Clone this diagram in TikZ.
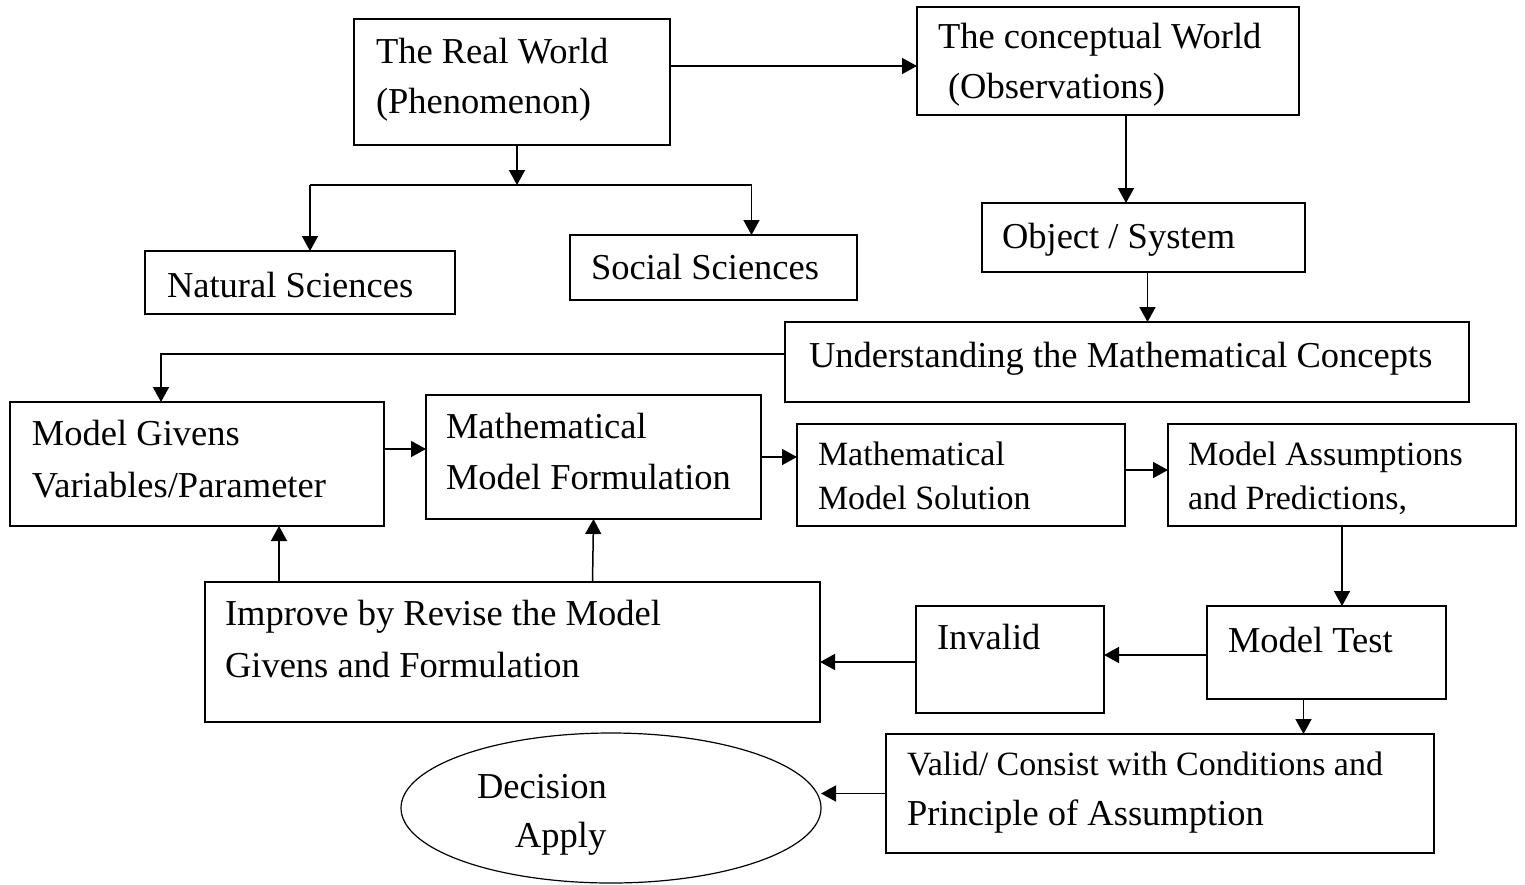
\documentclass[tikz,border=0pt]{standalone}
\usepackage{fontspec}
\setmainfont{Liberation Serif}
\usetikzlibrary{arrows.meta,shapes.geometric}
\begin{document}
\begin{tikzpicture}[x=0.5pt,y=-0.5pt,
 box/.style={draw, line width=1pt, inner sep=0pt, outer sep=0pt, anchor=north west},
 txt/.style={anchor=base west, inner sep=0pt, outer sep=0pt, font=\fontsize{18.25}{22}\selectfont},
 txs/.style={txt, font=\fontsize{17}{20}\selectfont},
 arr/.style={line width=0.75pt, -{Triangle[length=7.5pt,width=8pt]}}]
\useasboundingbox (0,0) rectangle (1525,884);
% boxes
\node[box, minimum width=158pt, minimum height=63pt] (rw) at (354,19) {};
\node[box, minimum width=191pt, minimum height=54pt] (cw) at (917,7) {};
\node[box, minimum width=155pt, minimum height=31.5pt] (ns) at (145,251) {};
\node[box, minimum width=143.5pt, minimum height=32.5pt] (ss) at (570,235) {};
\node[box, minimum width=161.5pt, minimum height=34.5pt] (os) at (982,203) {};
\node[box, minimum width=342pt, minimum height=40pt] (um) at (785,322) {};
\node[box, minimum width=187pt, minimum height=62pt] (mg) at (10,402) {};
\node[box, minimum width=167.5pt, minimum height=62pt] (mf) at (426,395) {};
\node[box, minimum width=164pt, minimum height=51pt] (sol) at (797,424) {};
\node[box, minimum width=174pt, minimum height=51pt] (as) at (1168,424) {};
\node[box, minimum width=307.5pt, minimum height=70pt] (imp) at (205,582) {};
\node[box, minimum width=94pt, minimum height=53.5pt] (inv) at (916,606) {};
\node[box, minimum width=119.5pt, minimum height=46.5pt] (mt) at (1207,606) {};
\node[box, minimum width=274pt, minimum height=59.5pt] (val) at (886,734) {};
\node[draw, ellipse, line width=0.6pt, minimum width=210pt, minimum height=75pt, inner sep=0pt, outer sep=0pt] (dec) at (611,808) {};
% texts
\node[txt] (rw1) at (376,63) {The Real World};
\node[txt] (rw2) at (376,113) {(Phenomenon)};
\node[txt] (cw1) at (938,48) {The conceptual World};
\node[txt] (cw2) at (948,98) {(Observations)};
\node[txt] (ns1) at (167,297) {Natural Sciences};
\node[txt] (ss1) at (591,279) {Social Sciences};
\node[txt] (os1) at (1002,248) {Object / System};
\node[txt] (um1) at (809,367) {Understanding the Mathematical Concepts};
\node[txt] (mg1) at (32,445) {Model Givens};
\node[txt] (mg2) at (32,497) {Variables/Parameter};
\node[txt] (mf1) at (446,438) {Mathematical};
\node[txt] (mf2) at (446,489) {Model Formulation};
\node[txs] (sol1) at (818,465) {Mathematical};
\node[txs] (sol2) at (818,509) {Model Solution};
\node[txs] (as1) at (1188,465) {Model Assumptions};
\node[txs] (as2) at (1188,509) {and Predictions,};
\node[txt] (imp1) at (225,625) {Improve by Revise the Model};
\node[txt] (imp2) at (225,677) {Givens and Formulation};
\node[txt] (inv1) at (937,649) {Invalid};
\node[txt] (mt1) at (1228,652) {Model Test};
\node[txs] (val1) at (907,775) {Valid/ Consist with Conditions and};
\node[txt] (val2) at (907,825) {Principle of Assumption};
\node[txt] (dec1) at (477,798) {Decision};
\node[txt] (dec2) at (515,847) {Apply};
% connectors
\coordinate (split) at ([xshift=2.5pt]rw.south |- 0,185);
\draw[arr] ([xshift=2.5pt]rw.south) -- (split);
\draw[line width=0.75pt] ([xshift=5pt]ns.north |- split) -- ([xshift=19pt]ss.north |- split);
\draw[arr] ([xshift=5pt]ns.north |- split) -- ([xshift=5pt]ns.north);
\draw[arr] ([xshift=19pt]ss.north |- split) -- ([xshift=19pt]ss.north);
\draw[arr] ([yshift=8pt]rw.east) -- ([yshift=8pt]rw.east -| cw.west);
\draw[arr] ([xshift=9pt]cw.south) -- ([xshift=9pt]cw.south |- os.north);
\draw[arr] ([xshift=2pt]os.south) -- ([xshift=2pt]os.south |- um.north);
\draw[arr] ([yshift=4pt]um.west) -| ([xshift=-18pt]mg.north);
\draw[arr] ([yshift=7.5pt]mg.east) -- ([yshift=7.5pt]mg.east -| mf.west);
\draw[arr] (mf.east) -- (mf.east -| sol.west);
\draw[arr] ([yshift=2.5pt]sol.east) -- ([yshift=2.5pt]sol.east -| as.west);
\draw[arr] (as.south) -- (as.south |- mt.north);
\draw[arr] ([yshift=-1.25pt]mt.west) -- ([yshift=-1.25pt]mt.west -| inv.east);
\draw[arr] ([yshift=-1.25pt]inv.west) -- ([yshift=-1.25pt]inv.west -| imp.east);
\draw[arr] ([xshift=-11.5pt]mt.south) -- ([xshift=-11.5pt]mt.south |- val.north);
\draw[arr] (val.west) -- (val.west -| dec.east);
\draw[arr] ([xshift=41pt]mg.south |- imp.north) -- ([xshift=41pt]mg.south);
\draw[arr] ([xshift=-0.5pt]mf.south |- imp.north) -- (mf.south);
\end{tikzpicture}
\end{document}
